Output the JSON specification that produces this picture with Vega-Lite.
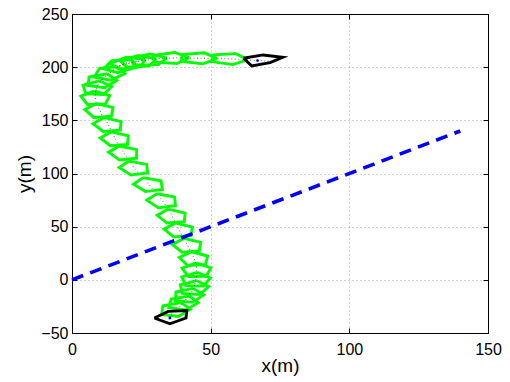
{
  "$schema": "https://vega.github.io/schema/vega-lite/v6.json",
  "width": 416,
  "height": 319,
  "autosize": {"type": "none"},
  "padding": {"left": 72, "top": 14, "right": 22, "bottom": 49},
  "background": "white",
  "config": {"view": {"stroke": null}},
  "datasets": {
    "green": [
      {"p":2,"o":0,"x":39.3,"y":-21.4},{"p":2,"o":1,"x":32.8,"y":-24.4},{"p":2,"o":2,"x":32.3,"y":-32.5},{"p":2,"o":3,"x":38.4,"y":-34.5},{"p":2,"o":4,"x":42.7,"y":-27.6},{"p":2,"o":5,"x":39.3,"y":-21.4},
      {"p":3,"o":0,"x":42.3,"y":-15.2},{"p":3,"o":1,"x":35.8,"y":-18.0},{"p":3,"o":2,"x":34.9,"y":-26.1},{"p":3,"o":3,"x":41.0,"y":-28.3},{"p":3,"o":4,"x":45.5,"y":-21.5},{"p":3,"o":5,"x":42.3,"y":-15.2},
      {"p":4,"o":0,"x":43.7,"y":-8.1},{"p":4,"o":1,"x":37.5,"y":-11.4},{"p":4,"o":2,"x":37.3,"y":-19.6},{"p":4,"o":3,"x":43.5,"y":-21.2},{"p":4,"o":4,"x":47.5,"y":-14.1},{"p":4,"o":5,"x":43.7,"y":-8.1},
      {"p":5,"o":0,"x":45.0,"y":-0.8},{"p":5,"o":1,"x":39.1,"y":-4.6},{"p":5,"o":2,"x":39.7,"y":-12.8},{"p":5,"o":3,"x":46.0,"y":-13.9},{"p":5,"o":4,"x":49.3,"y":-6.4},{"p":5,"o":5,"x":45.0,"y":-0.8},
      {"p":6,"o":0,"x":45.1,"y":7.1},{"p":6,"o":1,"x":39.6,"y":2.7},{"p":6,"o":2,"x":41.0,"y":-5.4},{"p":6,"o":3,"x":47.4,"y":-5.8},{"p":6,"o":4,"x":49.9,"y":1.9},{"p":6,"o":5,"x":45.1,"y":7.1},
      {"p":7,"o":0,"x":44.8,"y":15.9},{"p":7,"o":1,"x":39.7,"y":10.9},{"p":7,"o":2,"x":42.0,"y":3.1},{"p":7,"o":3,"x":48.4,"y":3.3},{"p":7,"o":4,"x":50.1,"y":11.3},{"p":7,"o":5,"x":44.8,"y":15.9},
      {"p":8,"o":0,"x":43.1,"y":26.4},{"p":8,"o":1,"x":38.7,"y":21.0},{"p":8,"o":2,"x":41.7,"y":13.4},{"p":8,"o":3,"x":48.1,"y":14.3},{"p":8,"o":4,"x":48.9,"y":22.4},{"p":8,"o":5,"x":43.1,"y":26.4},
      {"p":9,"o":0,"x":40.4,"y":39.0},{"p":9,"o":1,"x":36.2,"y":33.3},{"p":9,"o":2,"x":39.7,"y":25.9},{"p":9,"o":3,"x":45.9,"y":27.1},{"p":9,"o":4,"x":46.4,"y":35.3},{"p":9,"o":5,"x":40.4,"y":39.0},
      {"p":10,"o":0,"x":37.4,"y":53.4},{"p":10,"o":1,"x":33.2,"y":47.7},{"p":10,"o":2,"x":36.7,"y":40.3},{"p":10,"o":3,"x":42.9,"y":41.5},{"p":10,"o":4,"x":43.4,"y":49.7},{"p":10,"o":5,"x":37.4,"y":53.4},
      {"p":11,"o":0,"x":34.7,"y":66.5},{"p":11,"o":1,"x":30.7,"y":60.7},{"p":11,"o":2,"x":34.3,"y":53.4},{"p":11,"o":3,"x":40.5,"y":54.7},{"p":11,"o":4,"x":40.8,"y":62.8},{"p":11,"o":5,"x":34.7,"y":66.5},
      {"p":12,"o":0,"x":30.7,"y":81.0},{"p":12,"o":1,"x":27.0,"y":75.0},{"p":12,"o":2,"x":31.1,"y":67.9},{"p":12,"o":3,"x":37.3,"y":69.7},{"p":12,"o":4,"x":37.0,"y":77.9},{"p":12,"o":5,"x":30.7,"y":81.0},
      {"p":13,"o":0,"x":25.6,"y":96.1},{"p":13,"o":1,"x":22.2,"y":89.9},{"p":13,"o":2,"x":26.5,"y":83.0},{"p":13,"o":3,"x":32.6,"y":85.0},{"p":13,"o":4,"x":32.1,"y":93.1},{"p":13,"o":5,"x":25.6,"y":96.1},
      {"p":14,"o":0,"x":20.6,"y":111.7},{"p":14,"o":1,"x":17.0,"y":105.6},{"p":14,"o":2,"x":21.2,"y":98.6},{"p":14,"o":3,"x":27.3,"y":100.5},{"p":14,"o":4,"x":26.9,"y":108.6},{"p":14,"o":5,"x":20.6,"y":111.7},
      {"p":15,"o":0,"x":17.1,"y":125.9},{"p":15,"o":1,"x":13.2,"y":120.0},{"p":15,"o":2,"x":17.1,"y":112.8},{"p":15,"o":3,"x":23.3,"y":114.3},{"p":15,"o":4,"x":23.3,"y":122.5},{"p":15,"o":5,"x":17.1,"y":125.9},
      {"p":16,"o":0,"x":14.2,"y":139.2},{"p":16,"o":1,"x":10.2,"y":133.4},{"p":16,"o":2,"x":13.8,"y":126.1},{"p":16,"o":3,"x":20.0,"y":127.4},{"p":16,"o":4,"x":20.3,"y":135.5},{"p":16,"o":5,"x":14.2,"y":139.2},
      {"p":17,"o":0,"x":11.6,"y":152.6},{"p":17,"o":1,"x":7.6,"y":146.8},{"p":17,"o":2,"x":11.2,"y":139.5},{"p":17,"o":3,"x":17.4,"y":140.8},{"p":17,"o":4,"x":17.7,"y":148.9},{"p":17,"o":5,"x":11.6,"y":152.6},
      {"p":18,"o":0,"x":8.9,"y":165.8},{"p":18,"o":1,"x":4.6,"y":160.2},{"p":18,"o":2,"x":7.9,"y":152.7},{"p":18,"o":3,"x":14.2,"y":153.8},{"p":18,"o":4,"x":14.8,"y":162.0},{"p":18,"o":5,"x":8.9,"y":165.8},
      {"p":19,"o":0,"x":8.1,"y":177.8},{"p":19,"o":1,"x":3.2,"y":172.7},{"p":19,"o":2,"x":5.6,"y":164.9},{"p":19,"o":3,"x":12.0,"y":165.3},{"p":19,"o":4,"x":13.6,"y":173.3},{"p":19,"o":5,"x":8.1,"y":177.8},
      {"p":20,"o":0,"x":9.8,"y":187.2},{"p":20,"o":1,"x":4.0,"y":183.0},{"p":20,"o":2,"x":5.0,"y":174.9},{"p":20,"o":3,"x":11.4,"y":174.2},{"p":20,"o":4,"x":14.3,"y":181.8},{"p":20,"o":5,"x":9.8,"y":187.2},
      {"p":21,"o":0,"x":12.7,"y":193.8},{"p":21,"o":1,"x":6.2,"y":190.8},{"p":21,"o":2,"x":5.7,"y":182.7},{"p":21,"o":3,"x":11.8,"y":180.7},{"p":21,"o":4,"x":16.1,"y":187.6},{"p":21,"o":5,"x":12.7,"y":193.8},
      {"p":22,"o":0,"x":16.6,"y":200.6},{"p":22,"o":1,"x":9.8,"y":198.6},{"p":22,"o":2,"x":8.1,"y":190.6},{"p":22,"o":3,"x":13.9,"y":187.8},{"p":22,"o":4,"x":19.1,"y":194.0},{"p":22,"o":5,"x":16.6,"y":200.6},
      {"p":23,"o":0,"x":21.4,"y":206.9},{"p":23,"o":1,"x":14.4,"y":206.0},{"p":23,"o":2,"x":11.4,"y":198.5},{"p":23,"o":3,"x":16.5,"y":194.7},{"p":23,"o":4,"x":22.8,"y":199.9},{"p":23,"o":5,"x":21.4,"y":206.9},
      {"p":24,"o":0,"x":26.3,"y":207.3},{"p":24,"o":1,"x":19.5,"y":209.3},{"p":24,"o":2,"x":13.8,"y":203.5},{"p":24,"o":3,"x":17.1,"y":198.0},{"p":24,"o":4,"x":24.9,"y":200.4},{"p":24,"o":5,"x":26.3,"y":207.3},
      {"p":25,"o":0,"x":30.4,"y":207.9},{"p":25,"o":1,"x":23.9,"y":210.9},{"p":25,"o":2,"x":17.4,"y":205.9},{"p":25,"o":3,"x":19.9,"y":200.0},{"p":25,"o":4,"x":28.0,"y":201.3},{"p":25,"o":5,"x":30.4,"y":207.9},
      {"p":26,"o":0,"x":34.2,"y":208.7},{"p":26,"o":1,"x":28.2,"y":212.4},{"p":26,"o":2,"x":21.1,"y":208.3},{"p":26,"o":3,"x":22.9,"y":202.2},{"p":26,"o":4,"x":31.1,"y":202.4},{"p":26,"o":5,"x":34.2,"y":208.7},
      {"p":27,"o":0,"x":42.3,"y":209.0},{"p":27,"o":1,"x":37.0,"y":213.8},{"p":27,"o":2,"x":29.3,"y":211.1},{"p":27,"o":3,"x":29.9,"y":204.7},{"p":27,"o":4,"x":37.9,"y":203.4},{"p":27,"o":5,"x":42.3,"y":209.0},
      {"p":28,"o":0,"x":52.3,"y":208.2},{"p":28,"o":1,"x":47.7,"y":213.5},{"p":28,"o":2,"x":39.7,"y":211.8},{"p":28,"o":3,"x":39.5,"y":205.4},{"p":28,"o":4,"x":47.3,"y":203.1},{"p":28,"o":5,"x":52.3,"y":208.2},
      {"p":29,"o":0,"x":63.4,"y":207.1},{"p":29,"o":1,"x":59.1,"y":212.7},{"p":29,"o":2,"x":51.1,"y":211.6},{"p":29,"o":3,"x":50.4,"y":205.2},{"p":29,"o":4,"x":58.0,"y":202.4},{"p":29,"o":5,"x":63.4,"y":207.1}
    ],
    "black": [
      {"p":1,"o":0,"x":29.7,"y":-35.9},{"p":1,"o":1,"x":35.3,"y":-41.3},{"p":1,"o":2,"x":41.1,"y":-35.9},{"p":1,"o":3,"x":41.4,"y":-28.8},{"p":1,"o":4,"x":34.7,"y":-29.7},{"p":1,"o":5,"x":29.7,"y":-35.9},
      {"p":30,"o":0,"x":61.8,"y":208.4},{"p":30,"o":1,"x":64.8,"y":201.2},{"p":30,"o":2,"x":71.4,"y":204.3},{"p":30,"o":3,"x":76.0,"y":209.3},{"p":30,"o":4,"x":68.9,"y":211.5},{"p":30,"o":5,"x":61.8,"y":208.4}
    ],
    "segs": [
      {"x":34.4,"y":-39.8,"x2":36.2,"y2":-32.0},{"x":35.9,"y":-31.9,"x2":38.3,"y2":-24.3},{"x":38.5,"y":-25.6,"x2":41.3,"y2":-18.0},{"x":40.9,"y":-18.8,"x2":42.9,"y2":-11.0},{"x":43.1,"y":-11.6,"x2":44.5,"y2":-3.8},{"x":44.3,"y":-3.9,"x2":44.9,"y2":4.1},{"x":45.1,"y":4.9,"x2":44.9,"y2":12.9},{"x":44.7,"y":15.5,"x2":43.5,"y2":23.5},{"x":42.5,"y":28.2,"x2":40.9,"y2":36.0},{"x":39.5,"y":42.6,"x2":37.9,"y2":50.4},{"x":37.0,"y":55.7,"x2":35.4,"y2":63.5},{"x":33.7,"y":70.5,"x2":31.5,"y2":78.1},{"x":29.0,"y":85.6,"x2":26.6,"y2":93.2},{"x":23.8,"y":101.2,"x2":21.4,"y2":108.8},{"x":19.8,"y":115.2,"x2":17.8,"y2":123.0},{"x":16.5,"y":128.4,"x2":14.9,"y2":136.2},{"x":13.9,"y":141.8,"x2":12.3,"y2":149.6},{"x":10.8,"y":155.0,"x2":9.4,"y2":162.8},{"x":8.7,"y":166.8,"x2":8.3,"y2":174.8},{"x":8.4,"y":176.2,"x2":9.4,"y2":184.2},{"x":9.3,"y":183.3,"x2":11.7,"y2":190.9},{"x":11.8,"y":190.7,"x2":15.3,"y2":197.9},{"x":15.0,"y":198.0,"x2":19.7,"y2":204.4},{"x":16.9,"y":201.6,"x2":23.7,"y2":205.8},{"x":20.2,"y":203.6,"x2":27.6,"y2":206.8},{"x":23.7,"y":205.7,"x2":31.3,"y2":207.9},{"x":31.3,"y":208.1,"x2":39.3,"y2":208.8},{"x":41.3,"y":208.5,"x2":49.3,"y2":208.3},{"x":52.4,"y":208.2,"x2":60.4,"y2":207.4},{"x":63.0,"y":206.8,"x2":70.9,"y2":205.6}
    ],
    "path": [{"x":0,"y":0},{"x":140,"y":140}],
    "ends": [{"x":35.3,"y":-35.9},{"x":66.9,"y":206.2}]
  },
  "resolve": {"axis": {"x": "independent", "y": "independent"}},
  "layer": [
    {
      "data": {"name": "green"},
      "mark": {"type": "line", "color": "#00ff00", "strokeWidth": 2.9, "strokeJoin": "miter"},
      "encoding": {
        "x": {"field": "x", "type": "quantitative", "scale": {"domain": [0, 150], "nice": false},
          "axis": {"orient": "bottom", "values": [0, 50, 100, 150], "tickSize": -5, "labelPadding": 13, "labelFlush": false,
            "labelFont": "Liberation Sans", "labelFontSize": 16, "labelColor": "#000", "tickColor": "#000", "domainColor": "#000",
            "grid": true, "gridDash": [1, 3], "gridColor": "#a8a8a8", "gridWidth": 1,
            "title": "x(m)", "titleFont": "Liberation Sans", "titleFontSize": 19, "titleFontWeight": "normal", "titleColor": "#000",
            "titleX": 208, "titleY": 38, "titleAlign": "center", "titleBaseline": "alphabetic"}},
        "y": {"field": "y", "type": "quantitative", "scale": {"domain": [-50, 250], "nice": false},
          "axis": {"orient": "left", "values": [-50, 0, 50, 100, 150, 200, 250], "tickSize": -5, "labelPadding": 9, "labelFlush": false,
            "labelFont": "Liberation Sans", "labelFontSize": 16, "labelColor": "#000", "tickColor": "#000", "domainColor": "#000",
            "grid": true, "gridDash": [1, 3], "gridColor": "#a8a8a8", "gridWidth": 1,
            "title": "y(m)", "titleFont": "Liberation Sans", "titleFontSize": 19, "titleFontWeight": "normal", "titleColor": "#000",
            "titleAngle": -90, "titleX": -42, "titleY": 159.5, "titleAlign": "center", "titleBaseline": "alphabetic"}},
        "detail": {"field": "p", "type": "nominal"},
        "order": {"field": "o", "type": "quantitative"}
      }
    },
    {
      "data": {"name": "segs"},
      "mark": {"type": "rule", "color": "#444444", "strokeWidth": 1, "strokeDash": [1, 2.5], "opacity": 0.8},
      "encoding": {
        "x": {"field": "x", "type": "quantitative", "scale": {"domain": [0, 150], "nice": false}, "axis": null},
        "y": {"field": "y", "type": "quantitative", "scale": {"domain": [-50, 250], "nice": false}, "axis": null},
        "x2": {"field": "x2"},
        "y2": {"field": "y2"}
      }
    },
    {
      "data": {"name": "path"},
      "mark": {"type": "line", "color": "#0000ff", "strokeWidth": 3.6, "strokeDash": [12, 7.5], "strokeCap": "butt"},
      "encoding": {
        "x": {"field": "x", "type": "quantitative", "scale": {"domain": [0, 150], "nice": false},
          "axis": {"orient": "top", "values": [0, 50, 100, 150], "labels": false, "tickSize": -5, "grid": false, "title": null, "tickColor": "#000", "domainColor": "#000"}},
        "y": {"field": "y", "type": "quantitative", "scale": {"domain": [-50, 250], "nice": false},
          "axis": {"orient": "right", "values": [-50, 0, 50, 100, 150, 200, 250], "labels": false, "tickSize": -5, "grid": false, "title": null, "tickColor": "#000", "domainColor": "#000"}}
      }
    },
    {
      "data": {"name": "black"},
      "mark": {"type": "line", "color": "#000000", "strokeWidth": 2.9, "strokeJoin": "miter"},
      "encoding": {
        "x": {"field": "x", "type": "quantitative", "scale": {"domain": [0, 150], "nice": false}, "axis": null},
        "y": {"field": "y", "type": "quantitative", "scale": {"domain": [-50, 250], "nice": false}, "axis": null},
        "detail": {"field": "p", "type": "nominal"},
        "order": {"field": "o", "type": "quantitative"}
      }
    },
    {
      "data": {"name": "ends"},
      "mark": {"type": "point", "filled": true, "color": "#0000ff", "size": 8, "opacity": 1},
      "encoding": {
        "x": {"field": "x", "type": "quantitative", "scale": {"domain": [0, 150], "nice": false}, "axis": null},
        "y": {"field": "y", "type": "quantitative", "scale": {"domain": [-50, 250], "nice": false}, "axis": null}
      }
    }
  ]
}
